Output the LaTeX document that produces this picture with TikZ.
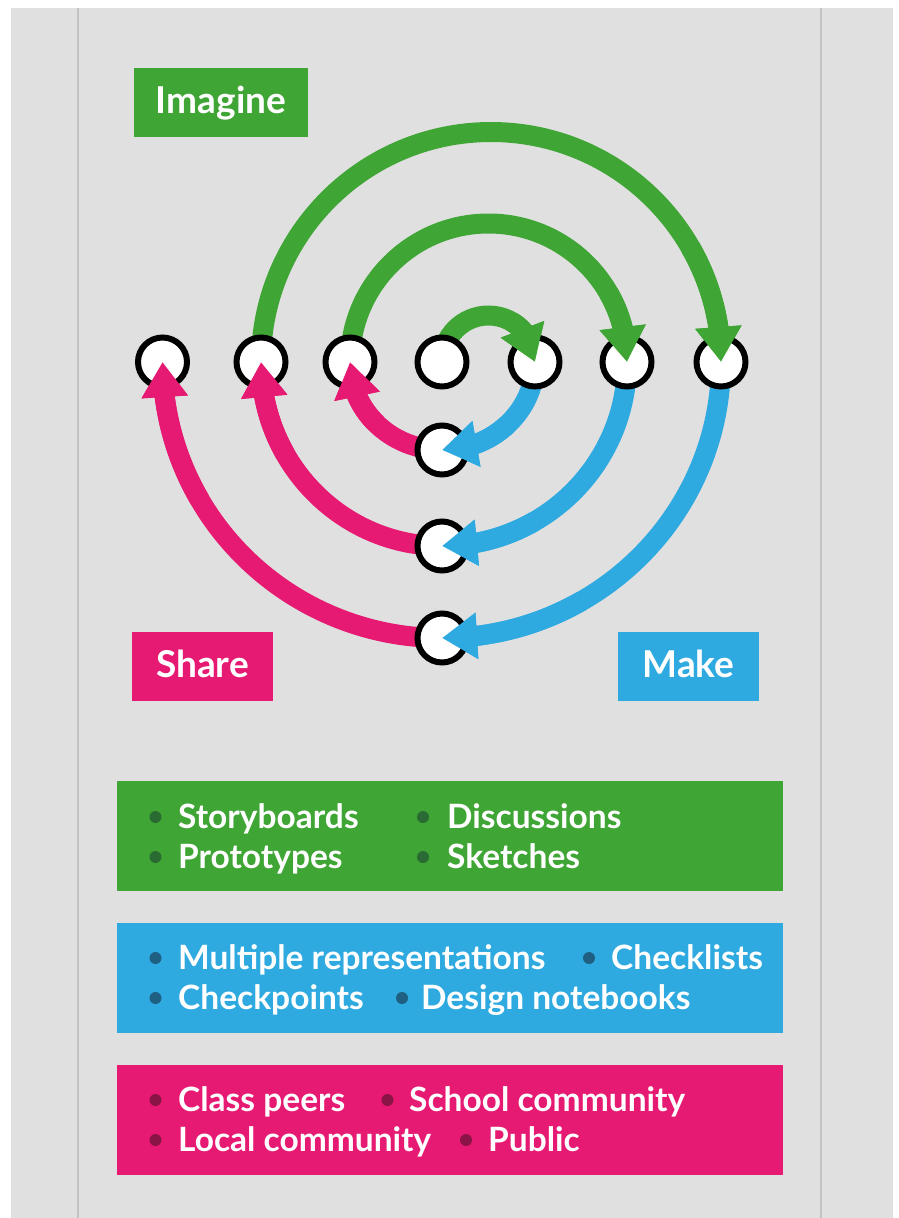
\documentclass[tikz,border=0pt]{standalone}
\usepackage{fontspec}
\setmainfont{Lato}
\usetikzlibrary{arrows.meta,bending}
\definecolor{gr}{HTML}{3FA535}
\definecolor{bl}{HTML}{2FAAE0}
\definecolor{pk}{HTML}{E61A72}
\definecolor{bgc}{HTML}{E0E0E0}
\definecolor{rulec}{HTML}{C2C2C2}
\definecolor{grd}{HTML}{2A6A33}
\definecolor{bld}{HTML}{1F5F82}
\definecolor{pkd}{HTML}{8A1446}
\tikzset{
  ring/.style={circle, draw=black, line width=6pt, fill=white, minimum size=49pt, inner sep=0pt},
  arr/.style={line width=20pt, -{Triangle[length=35pt,width=44pt,flex]}},
  lab/.style={text=white, font=\bfseries\fontsize{37}{44}\selectfont, minimum height=69pt, inner sep=0pt, text height=26pt, text depth=4pt},
  listbox/.style={minimum width=666pt, minimum height=110pt, inner sep=0pt},
  item/.style={text=white, font=\bfseries\fontsize{33.5}{40}\selectfont, anchor=base west, inner sep=0pt},
  dot/.style={circle, inner sep=0pt, minimum size=12pt}
}
\begin{document}
\begin{tikzpicture}[x=1pt,y=-1pt]
\useasboundingbox (0,0) rectangle (898,1218);
\fill[white] (0,0) rectangle (898,1218);
\fill[bgc] (11,8) rectangle (893,1218);
\draw[rulec, line width=1.2pt] (78,8) -- (78,1218);
\draw[rulec, line width=1.2pt] (821,8) -- (821,1218);

% labels
\node[lab, fill=gr, minimum width=174pt] (imagine) at (221,102) {Imagine};
\node[lab, fill=pk, minimum width=141pt] (share) at (202.5,666.5) {Share};
\node[lab, fill=bl, minimum width=141pt] (make) at (688.5,666.5) {Make};

% circle positions
\coordinate (p1) at (162.5,362);
\coordinate (p2) at (261,362);
\coordinate (p3) at (350,362);
\coordinate (p4) at (442,362);
\coordinate (p5) at (535,362);
\coordinate (p6) at (627,362);
\coordinate (p7) at (721,362);
\coordinate (q1) at (442,450);
\coordinate (q2) at (442,546);
\coordinate (q3) at (442,638);
\coordinate (gc1) at (488.5,362);
\coordinate (gc2) at (488.5,362);
\coordinate (gc3) at (491,362);
\coordinate (oc) at (442,362);

% full arrows
\draw[arr, gr] (p4) arc[start angle=180, end angle=360, radius=46.5];
\draw[arr, gr] (p3) arc[start angle=180, end angle=360, radius=138.5];
\draw[arr, gr] (p2) arc[start angle=180, end angle=360, radius=230];
\draw[arr, bl] (p5) arc[start angle=0, end angle=90, x radius=93, y radius=88];
\draw[arr, bl] (p6) arc[start angle=0, end angle=90, x radius=185, y radius=184];
\draw[arr, bl] (p7) arc[start angle=0, end angle=90, x radius=279, y radius=276];
\draw[arr, pk] (q1) arc[start angle=90, end angle=180, x radius=92, y radius=88];
\draw[arr, pk] (q2) arc[start angle=90, end angle=180, x radius=181, y radius=184];
\draw[arr, pk] (q3) arc[start angle=90, end angle=180, x radius=279.5, y radius=276];

% circles
\node[ring] (c1) at (p1) {};
\node[ring] (c2) at (p2) {};
\node[ring] (c3) at (p3) {};
\node[ring] (c4) at (p4) {};
\node[ring] (c5) at (p5) {};
\node[ring] (c6) at (p6) {};
\node[ring] (c7) at (p7) {};
\node[ring] (d1) at (q1) {};
\node[ring] (d2) at (q2) {};
\node[ring] (d3) at (q3) {};

% arrow heads on top of circles
\draw[arr, gr] ([shift={(300:46.5)}]gc1) arc[start angle=300, end angle=360, radius=46.5];
\draw[arr, gr] ([shift={(330:138.5)}]gc2) arc[start angle=330, end angle=360, radius=138.5];
\draw[arr, gr] ([shift={(330:230)}]gc3) arc[start angle=330, end angle=360, radius=230];
\draw[arr, bl] ([shift={(45:93 and 88)}]oc) arc[start angle=45, end angle=90, x radius=93, y radius=88];
\draw[arr, bl] ([shift={(60:185 and 184)}]oc) arc[start angle=60, end angle=90, x radius=185, y radius=184];
\draw[arr, bl] ([shift={(60:279 and 276)}]oc) arc[start angle=60, end angle=90, x radius=279, y radius=276];
\draw[arr, pk] ([shift={(135:92 and 88)}]oc) arc[start angle=135, end angle=180, x radius=92, y radius=88];
\draw[arr, pk] ([shift={(150:181 and 184)}]oc) arc[start angle=150, end angle=180, x radius=181, y radius=184];
\draw[arr, pk] ([shift={(150:279.5 and 276)}]oc) arc[start angle=150, end angle=180, x radius=279.5, y radius=276];

% list boxes
\node[listbox, fill=gr] (gbox) at (450,836) {};
\node[listbox, fill=bl] (bbox) at (450,978) {};
\node[listbox, fill=pk] (pbox) at (450,1120) {};

% green items
\node[dot, fill=grd] (gb1) at (155.5,817) {};
\node[item] (gt1) at (178,828) {Storyboards};
\node[dot, fill=grd] (gb2) at (423,817) {};
\node[item] (gt2) at (447,828) {Discussions};
\node[dot, fill=grd] (gb3) at (155.5,857) {};
\node[item] (gt3) at (178,868) {Prototypes};
\node[dot, fill=grd] (gb4) at (423,857) {};
\node[item] (gt4) at (447,868) {Sketches};

% blue items
\node[dot, fill=bld] (bb1) at (155.5,958) {};
\node[item] (bt1) at (178,969) {Multiple representations};
\node[dot, fill=bld] (bb2) at (589,958) {};
\node[item] (bt2) at (611,969) {Checklists};
\node[dot, fill=bld] (bb3) at (155.5,998) {};
\node[item] (bt3) at (178,1009) {Checkpoints};
\node[dot, fill=bld] (bb4) at (402,998) {};
\node[item] (bt4) at (421,1009) {Design notebooks};

% pink items
\node[dot, fill=pkd] (pb1) at (155.5,1100) {};
\node[item] (pt1) at (178,1111) {Class peers};
\node[dot, fill=pkd] (pb2) at (387.5,1100) {};
\node[item] (pt2) at (409,1111) {School community};
\node[dot, fill=pkd] (pb3) at (155.5,1140) {};
\node[item] (pt3) at (178,1151) {Local community};
\node[dot, fill=pkd] (pb4) at (466,1140) {};
\node[item] (pt4) at (488,1151) {Public};
\end{tikzpicture}
\end{document}
